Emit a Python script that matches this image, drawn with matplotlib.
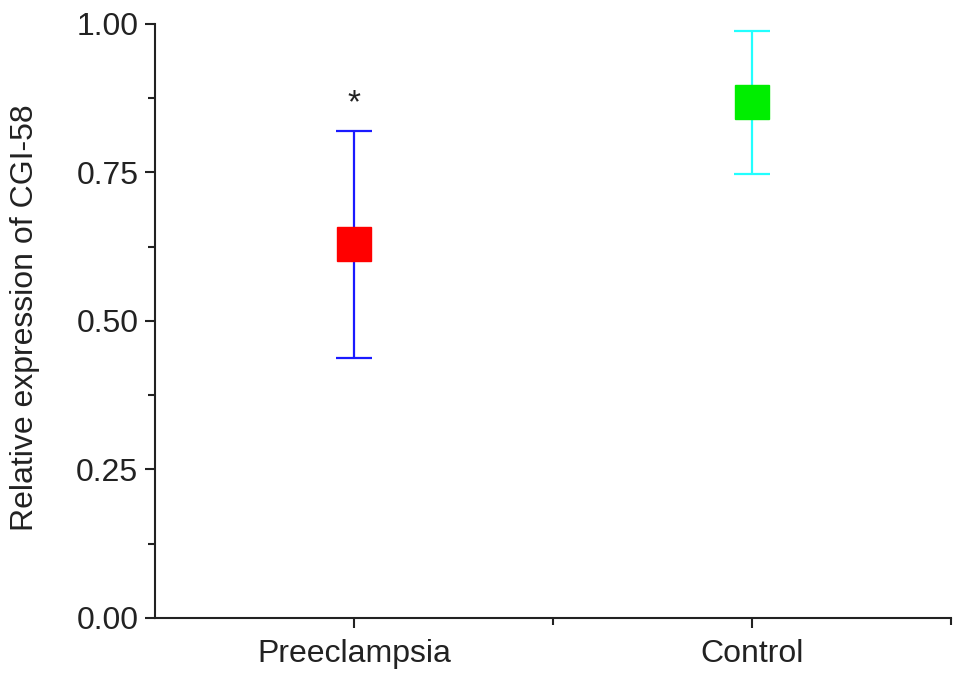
import matplotlib
matplotlib.use("Agg")
import matplotlib.pyplot as plt
from matplotlib.transforms import blended_transform_factory

categories = ["Preeclampsia", "Control"]
means = [0.63, 0.868]
upper = [0.82, 0.988]
lower = [0.438, 0.748]
box_colors = ["#ff0000", "#00ee00"]
err_colors = ["#1a1aff", "#22ffff"]
yticks = [0.00, 0.25, 0.50, 0.75, 1.00]
ylabel = "Relative expression of CGI-58"

plt.rcParams['font.family'] = ['Liberation Sans', 'DejaVu Sans']

fig = plt.figure(figsize=(9.69, 6.84), dpi=100)
ax = fig.add_axes([0.16, 0.0965, 0.821, 0.8685])

xs = [1, 2]
for x, m, u, l, bc, ec in zip(xs, means, upper, lower, box_colors, err_colors):
    ax.errorbar([x], [m], yerr=[[m - l], [u - m]], fmt='none', ecolor=ec,
                elinewidth=1.6, capsize=13, capthick=1.6, zorder=2)
    ax.plot([x], [m], marker='s', markersize=24.5, color=bc, linestyle='none', zorder=3)

ax.text(1, 0.84, "*", ha='center', va='bottom', fontsize=24, color='#222222')

ax.set_xlim(0.5, 2.5)
ax.set_ylim(0, 1.0)
ax.set_xticks(xs)
ax.set_xticklabels(categories)
ax.set_xticks([1.5, 2.5], minor=True)
ax.set_yticks(yticks)
ax.set_yticklabels([f"{v:.2f}" for v in yticks])
ax.set_yticks([0.125, 0.375, 0.625, 0.875], minor=True)
ax.set_ylabel(ylabel, fontsize=23, color='#222222')
ax.yaxis.set_label_coords(40 / 969, 0.505, transform=blended_transform_factory(fig.transFigure, ax.transAxes))

for side in ['top', 'right']:
    ax.spines[side].set_visible(False)
for side in ['left', 'bottom']:
    ax.spines[side].set_linewidth(1.5)
    ax.spines[side].set_color('#222222')
ax.tick_params(axis='both', which='major', direction='out', length=7, width=1.5,
               labelsize=23, colors='#222222')
ax.tick_params(axis='both', which='minor', direction='out', length=5, width=1.5,
               colors='#222222')
ax.tick_params(axis='x', which='major', pad=8)
ax.tick_params(axis='y', which='major', pad=5)

fig.savefig("out.png", dpi=100)
